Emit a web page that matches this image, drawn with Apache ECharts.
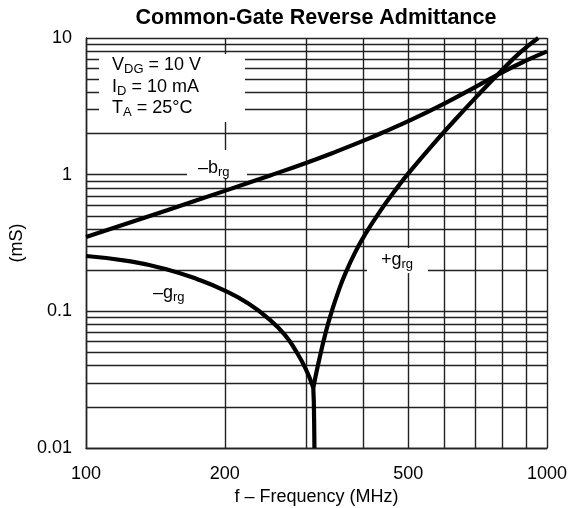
<!DOCTYPE html>
<html><head><meta charset="utf-8">
<script src="https://cdn.jsdelivr.net/npm/echarts@6/dist/echarts.min.js"></script>
<style>html,body{margin:0;padding:0;background:#fff}#c{width:571px;height:508px}</style>
</head><body><div id="c"></div>
<script>
// Gridline positions (tick values)
const gridFreqs = [100, 200, 300, 400, 500, 600, 700, 800, 900, 1000];
const gridAdm = [0.01, 0.02, 0.03, 0.04, 0.05, 0.06, 0.07, 0.08, 0.09,
                 0.1, 0.2, 0.3, 0.4, 0.5, 0.6, 0.7, 0.8, 0.9,
                 1, 2, 3, 4, 5, 6, 7, 8, 9, 10];
const xTickLabels = [100, 200, 500, 1000];

// -b_rg (mS)
const freqB = [100, 150, 200, 250, 300, 350, 400, 450, 500, 600, 700, 800, 900, 1000];
const negB  = [0.35, 0.55, 0.761, 0.983, 1.218, 1.481, 1.773, 2.102, 2.462, 3.329, 4.395, 5.613, 6.823, 7.99];

// -g_rg (mS)
const freqGn = [100, 125, 150, 175, 200, 225, 250, 270, 285, 300, 311.2];
const negG   = [0.254, 0.232, 0.2025, 0.171, 0.1417, 0.114, 0.0872, 0.0673, 0.0516, 0.0376, 0.0275];

// +g_rg (mS): near-vertical stem from the bottom up to the cusp, then the rising branch
const freqGpStem = [313.0, 312.5, 312.0, 311.2];
const posGStem   = [0.01, 0.016, 0.022, 0.0275];
const freqGp = [311.2, 318.6, 331.6, 341.8, 352.2, 364.7, 383.3, 402.9, 434.2, 472.8, 504.6, 557.5, 625.5, 705, 790.7, 873.7, 957.4];
const posG   = [0.0275, 0.0405, 0.0714, 0.1017, 0.1377, 0.1871, 0.2688, 0.364, 0.5389, 0.8004, 1.057, 1.573, 2.43, 3.758, 5.62, 7.82, 10];

const FONT = '"Liberation Sans", Arial, sans-serif';
const pairs = (xs, ys) => xs.map((x, i) => [x, ys[i]]);
const fmt = v => String(parseFloat(Number(v).toPrecision(6)));

const chart = echarts.init(document.getElementById('c'), null, {renderer: 'canvas'});

const curveStyle = {color: '#000', width: 4.2, cap: 'butt', join: 'round'};
const richN = {fontSize: 18, fontFamily: FONT, color: '#000', lineHeight: 22};
const richS = {fontSize: 13, fontFamily: FONT, color: '#000', lineHeight: 15, verticalAlign: 'bottom'};
const labelText = (x, y, text) => ({
  type: 'text', x: x, y: y, z: 4, silent: true,
  style: {text: text, rich: {n: richN, s: richS}, verticalAlign: 'middle', align: 'left'}
});
const curve = (name, data) => ({
  name: name, type: 'line', z: 5, data: data, showSymbol: false, smooth: 0.5,
  lineStyle: curveStyle, silent: true, animation: false
});

chart.setOption({
  animation: false,
  backgroundColor: '#fff',
  grid: {left: 86, right: 24, top: 38, bottom: 60, outerBoundsMode: 'none', containLabel: false},
  xAxis: {
    type: 'log', logBase: 10, min: 100, max: 1000,
    name: 'f – Frequency (MHz)', nameLocation: 'middle', nameGap: 37,
    nameTextStyle: {fontSize: 18, fontFamily: FONT, color: '#000'},
    axisLine: {show: true, lineStyle: {color: '#000', width: 1.4}},
    axisTick: {show: false},
    splitLine: {show: false},
    axisLabel: {customValues: xTickLabels, fontSize: 18, fontFamily: FONT, color: '#000', margin: 17,
                formatter: v => fmt(v), showMinLabel: true, showMaxLabel: true}
  },
  yAxis: {
    type: 'log', logBase: 10, min: 0.01, max: 10,
    name: '(mS)', nameLocation: 'middle', nameGap: 54, nameRotate: 90,
    nameTextStyle: {fontSize: 18, fontFamily: FONT, color: '#000'},
    axisLine: {show: true, lineStyle: {color: '#000', width: 1.4}},
    axisTick: {show: false},
    splitLine: {show: false},
    axisLabel: {fontSize: 18, fontFamily: FONT, color: '#000', margin: 14,
                formatter: v => fmt(v), showMinLabel: true, showMaxLabel: true}
  },
  graphic: [
    {type: 'text', x: 316, y: 18, z: 4, silent: true,
     style: {text: 'Common-Gate Reverse Admittance', font: 'bold 21.5px ' + FONT, fill: '#000',
             align: 'center', verticalAlign: 'middle'}},
    {type: 'rect', shape: {x: 99, y: 54, width: 146, height: 68}, z: 3, silent: true, style: {fill: '#fff'}},
    {type: 'rect', shape: {x: 187, y: 150, width: 60, height: 28}, z: 3, silent: true, style: {fill: '#fff'}},
    {type: 'rect', shape: {x: 367, y: 248, width: 61, height: 25}, z: 3, silent: true, style: {fill: '#fff'}},
    labelText(112, 65, '{n|V}{s|DG}{n| = 10 V}'),
    labelText(112, 87, '{n|I}{s|D}{n| = 10 mA}'),
    labelText(112, 108, '{n|T}{s|A}{n| = 25°C}'),
    labelText(198, 168, '{n|–b}{s|rg}'),
    labelText(381, 260, '{n|+g}{s|rg}'),
    labelText(153, 293, '{n|–g}{s|rg}')
  ],
  series: [
    {type: 'line', data: [], silent: true, z: 1,
     markLine: {silent: true, z: 1, symbol: ['none', 'none'], label: {show: false}, animation: false,
                lineStyle: {color: '#222', width: 1.4, type: 'solid'},
                emphasis: {disabled: true},
                data: gridFreqs.map(v => ({xAxis: v})).concat(gridAdm.map(v => ({yAxis: v})))}},
    curve('-b_rg', pairs(freqB, negB)),
    curve('-g_rg', pairs(freqGn, negG)),
    Object.assign(curve('+g_rg stem', pairs(freqGpStem, posGStem)), {smooth: false}),
    curve('+g_rg', pairs(freqGp, posG))
  ]
});
</script></body></html>
